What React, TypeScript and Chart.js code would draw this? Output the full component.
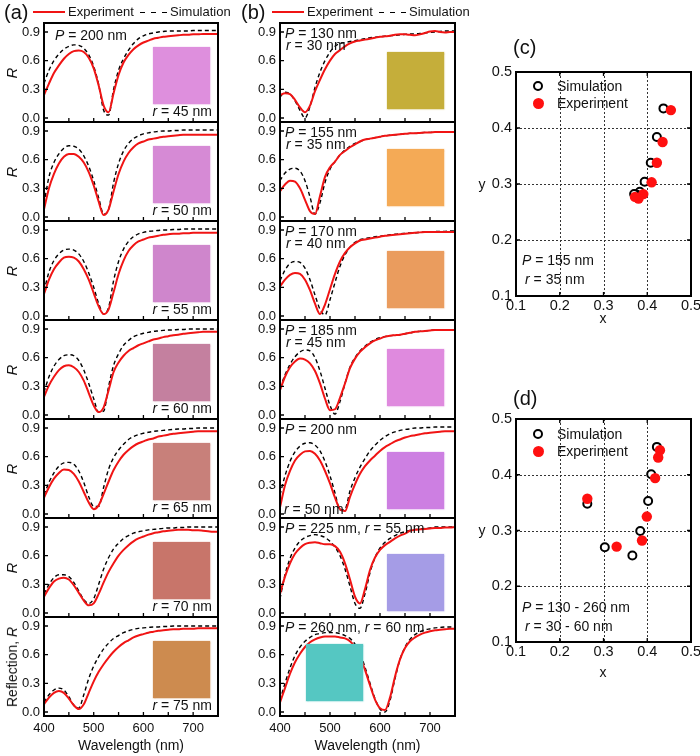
import React, { useEffect, useRef } from "react";
import { Chart, registerables } from "chart.js";
Chart.register(...registerables);

const FONT = '"Liberation Sans", Arial, Helvetica, sans-serif';
const RED = "#f01414";
const PAGE_W = 700;
const PAGE_H = 756;

// ---------- data ----------
const wavelengths = [400, 410, 420, 430, 440, 450, 460, 470, 480, 490, 500, 510, 520, 530, 540, 550, 560, 570, 580, 590, 600, 610, 620, 630, 640, 650, 660, 670, 680, 690, 700, 710, 720, 730, 740, 750];
const xTickValues = [400, 450, 500, 550, 600, 650, 700, 750];
const xLabelValues = [400, 500, 600, 700];
const rTickValues = [0, 0.3, 0.6, 0.9];
const cieTickValues = [0.1, 0.2, 0.3, 0.4, 0.5];
const cieGridValues = [0.2, 0.3, 0.4];

// (a) P = 200 nm
const expA45 = [0.24, 0.36, 0.47, 0.55, 0.62, 0.67, 0.70, 0.705, 0.69, 0.63, 0.52, 0.34, 0.13, 0.06, 0.26, 0.45, 0.58, 0.66, 0.72, 0.76, 0.79, 0.81, 0.83, 0.84, 0.85, 0.855, 0.86, 0.865, 0.87, 0.87, 0.875, 0.875, 0.88, 0.88, 0.88, 0.88];
const simA45 = [0.36, 0.50, 0.60, 0.67, 0.72, 0.75, 0.765, 0.76, 0.73, 0.66, 0.54, 0.35, 0.08, 0.03, 0.30, 0.50, 0.62, 0.71, 0.78, 0.83, 0.86, 0.88, 0.89, 0.90, 0.905, 0.91, 0.91, 0.91, 0.91, 0.91, 0.915, 0.915, 0.915, 0.915, 0.915, 0.915];
const expA50 = [0.08, 0.30, 0.45, 0.56, 0.63, 0.66, 0.66, 0.63, 0.57, 0.47, 0.33, 0.16, 0.02, 0.08, 0.27, 0.45, 0.58, 0.67, 0.73, 0.77, 0.79, 0.81, 0.82, 0.83, 0.84, 0.845, 0.85, 0.855, 0.86, 0.86, 0.86, 0.86, 0.86, 0.86, 0.86, 0.86];
const simA50 = [0.14, 0.42, 0.57, 0.66, 0.72, 0.745, 0.74, 0.71, 0.64, 0.53, 0.38, 0.20, 0.03, 0.08, 0.36, 0.56, 0.69, 0.77, 0.82, 0.85, 0.87, 0.88, 0.89, 0.895, 0.90, 0.90, 0.905, 0.905, 0.91, 0.91, 0.91, 0.91, 0.91, 0.91, 0.91, 0.91];
const expA55 = [0.23, 0.38, 0.49, 0.56, 0.61, 0.62, 0.61, 0.57, 0.49, 0.38, 0.24, 0.10, 0.02, 0.07, 0.25, 0.44, 0.58, 0.68, 0.74, 0.78, 0.80, 0.82, 0.83, 0.84, 0.85, 0.855, 0.86, 0.86, 0.865, 0.865, 0.87, 0.87, 0.87, 0.87, 0.87, 0.87];
const simA55 = [0.26, 0.46, 0.58, 0.65, 0.69, 0.70, 0.69, 0.65, 0.57, 0.45, 0.30, 0.13, 0.02, 0.09, 0.37, 0.57, 0.70, 0.78, 0.83, 0.86, 0.875, 0.885, 0.89, 0.895, 0.90, 0.90, 0.905, 0.905, 0.91, 0.91, 0.91, 0.91, 0.91, 0.91, 0.91, 0.91];
const expA60 = [0.19, 0.31, 0.40, 0.47, 0.51, 0.52, 0.50, 0.45, 0.36, 0.23, 0.10, 0.03, 0.08, 0.26, 0.45, 0.55, 0.62, 0.67, 0.70, 0.73, 0.75, 0.77, 0.79, 0.80, 0.815, 0.825, 0.835, 0.84, 0.85, 0.855, 0.86, 0.865, 0.87, 0.87, 0.87, 0.87];
const simA60 = [0.24, 0.40, 0.51, 0.58, 0.62, 0.63, 0.62, 0.57, 0.47, 0.33, 0.17, 0.03, 0.04, 0.30, 0.52, 0.64, 0.73, 0.78, 0.82, 0.84, 0.855, 0.865, 0.875, 0.88, 0.885, 0.89, 0.89, 0.895, 0.895, 0.90, 0.90, 0.90, 0.90, 0.90, 0.90, 0.90];
const expA65 = [0.17, 0.28, 0.37, 0.43, 0.465, 0.46, 0.42, 0.34, 0.23, 0.12, 0.05, 0.09, 0.21, 0.34, 0.46, 0.55, 0.62, 0.67, 0.71, 0.74, 0.76, 0.78, 0.79, 0.81, 0.82, 0.83, 0.84, 0.845, 0.85, 0.855, 0.86, 0.865, 0.865, 0.865, 0.865, 0.865];
const simA65 = [0.20, 0.33, 0.43, 0.50, 0.535, 0.54, 0.52, 0.45, 0.33, 0.18, 0.08, 0.08, 0.28, 0.47, 0.59, 0.67, 0.73, 0.78, 0.81, 0.83, 0.845, 0.855, 0.865, 0.87, 0.875, 0.88, 0.885, 0.89, 0.89, 0.895, 0.895, 0.90, 0.90, 0.90, 0.90, 0.90];
const expA70 = [0.17, 0.26, 0.33, 0.36, 0.37, 0.35, 0.29, 0.21, 0.13, 0.08, 0.10, 0.20, 0.32, 0.43, 0.52, 0.60, 0.66, 0.71, 0.75, 0.78, 0.80, 0.82, 0.835, 0.845, 0.855, 0.86, 0.865, 0.87, 0.87, 0.87, 0.865, 0.865, 0.86, 0.855, 0.85, 0.85];
const simA70 = [0.20, 0.30, 0.37, 0.40, 0.40, 0.38, 0.32, 0.23, 0.14, 0.10, 0.15, 0.30, 0.46, 0.58, 0.67, 0.73, 0.78, 0.81, 0.835, 0.85, 0.86, 0.87, 0.875, 0.88, 0.885, 0.89, 0.89, 0.895, 0.895, 0.90, 0.90, 0.90, 0.90, 0.90, 0.90, 0.90];
const expA75 = [0.08, 0.15, 0.20, 0.22, 0.20, 0.14, 0.07, 0.03, 0.08, 0.20, 0.32, 0.42, 0.50, 0.57, 0.63, 0.68, 0.72, 0.75, 0.78, 0.80, 0.815, 0.83, 0.84, 0.85, 0.855, 0.86, 0.865, 0.865, 0.87, 0.87, 0.87, 0.875, 0.875, 0.875, 0.875, 0.875];
const simA75 = [0.10, 0.18, 0.23, 0.25, 0.23, 0.16, 0.07, 0.04, 0.18, 0.35, 0.48, 0.58, 0.66, 0.72, 0.77, 0.80, 0.83, 0.85, 0.865, 0.875, 0.88, 0.885, 0.89, 0.89, 0.895, 0.895, 0.90, 0.90, 0.90, 0.90, 0.90, 0.90, 0.90, 0.90, 0.90, 0.90];

// (b) varying P and r
const expB130 = [0.24, 0.26, 0.25, 0.19, 0.11, 0.06, 0.13, 0.28, 0.40, 0.51, 0.60, 0.67, 0.71, 0.75, 0.78, 0.80, 0.81, 0.82, 0.83, 0.84, 0.85, 0.855, 0.86, 0.87, 0.875, 0.875, 0.87, 0.865, 0.875, 0.89, 0.905, 0.91, 0.90, 0.895, 0.90, 0.90];
const simB130 = [0.22, 0.27, 0.25, 0.18, 0.08, 0.0, 0.12, 0.32, 0.48, 0.60, 0.69, 0.75, 0.78, 0.79, 0.80, 0.81, 0.82, 0.83, 0.84, 0.845, 0.85, 0.855, 0.86, 0.865, 0.87, 0.875, 0.88, 0.88, 0.885, 0.89, 0.895, 0.90, 0.905, 0.91, 0.91, 0.91];
const expB155 = [0.27, 0.34, 0.38, 0.37, 0.30, 0.18, 0.06, 0.03, 0.22, 0.42, 0.52, 0.58, 0.65, 0.69, 0.73, 0.76, 0.79, 0.81, 0.82, 0.83, 0.84, 0.85, 0.855, 0.86, 0.865, 0.87, 0.875, 0.875, 0.88, 0.885, 0.885, 0.89, 0.89, 0.89, 0.89, 0.89];
const simB155 = [0.38, 0.46, 0.50, 0.51, 0.48, 0.38, 0.21, 0.03, 0.15, 0.36, 0.50, 0.58, 0.65, 0.70, 0.74, 0.77, 0.79, 0.81, 0.82, 0.83, 0.84, 0.85, 0.855, 0.86, 0.865, 0.87, 0.875, 0.875, 0.88, 0.885, 0.885, 0.89, 0.89, 0.89, 0.89, 0.89];
const expB170 = [0.31, 0.38, 0.43, 0.45, 0.44, 0.38, 0.27, 0.13, 0.02, 0.12, 0.28, 0.44, 0.57, 0.66, 0.72, 0.76, 0.79, 0.80, 0.81, 0.82, 0.83, 0.84, 0.845, 0.85, 0.855, 0.86, 0.865, 0.87, 0.875, 0.88, 0.88, 0.88, 0.88, 0.88, 0.88, 0.88];
const simB170 = [0.37, 0.48, 0.55, 0.57, 0.56, 0.50, 0.38, 0.22, 0.07, 0.01, 0.17, 0.35, 0.52, 0.64, 0.72, 0.77, 0.80, 0.81, 0.82, 0.83, 0.835, 0.84, 0.85, 0.855, 0.86, 0.865, 0.87, 0.87, 0.875, 0.88, 0.88, 0.885, 0.885, 0.885, 0.89, 0.89];
const expB185 = [0.26, 0.40, 0.50, 0.56, 0.59, 0.58, 0.54, 0.46, 0.33, 0.17, 0.05, 0.06, 0.18, 0.33, 0.49, 0.59, 0.66, 0.71, 0.75, 0.78, 0.80, 0.82, 0.83, 0.835, 0.84, 0.85, 0.86, 0.87, 0.875, 0.88, 0.885, 0.89, 0.89, 0.89, 0.89, 0.89];
const simB185 = [0.28, 0.42, 0.53, 0.61, 0.66, 0.68, 0.67, 0.60, 0.46, 0.28, 0.10, 0.01, 0.14, 0.33, 0.50, 0.60, 0.67, 0.72, 0.76, 0.79, 0.81, 0.82, 0.83, 0.835, 0.84, 0.85, 0.86, 0.87, 0.875, 0.88, 0.885, 0.89, 0.89, 0.89, 0.89, 0.89];
const expB200 = [0.07, 0.30, 0.45, 0.56, 0.62, 0.655, 0.66, 0.63, 0.56, 0.45, 0.32, 0.17, 0.05, 0.03, 0.18, 0.31, 0.42, 0.50, 0.56, 0.61, 0.66, 0.70, 0.73, 0.76, 0.78, 0.80, 0.815, 0.825, 0.835, 0.845, 0.85, 0.855, 0.86, 0.865, 0.865, 0.865];
const simB200 = [0.20, 0.40, 0.55, 0.65, 0.71, 0.74, 0.745, 0.72, 0.66, 0.55, 0.40, 0.22, 0.04, 0.05, 0.24, 0.38, 0.49, 0.58, 0.66, 0.72, 0.77, 0.81, 0.84, 0.86, 0.875, 0.885, 0.89, 0.90, 0.90, 0.905, 0.905, 0.91, 0.91, 0.91, 0.91, 0.91];
const expB225 = [0.20, 0.38, 0.52, 0.62, 0.68, 0.72, 0.735, 0.74, 0.73, 0.72, 0.72, 0.70, 0.64, 0.52, 0.35, 0.17, 0.10, 0.25, 0.45, 0.58, 0.66, 0.71, 0.745, 0.78, 0.81, 0.83, 0.86, 0.87, 0.875, 0.88, 0.885, 0.89, 0.89, 0.895, 0.895, 0.90];
const simB225 = [0.15, 0.40, 0.57, 0.68, 0.75, 0.79, 0.81, 0.82, 0.81, 0.79, 0.75, 0.69, 0.60, 0.46, 0.28, 0.10, 0.05, 0.20, 0.42, 0.58, 0.68, 0.74, 0.78, 0.81, 0.835, 0.85, 0.865, 0.875, 0.88, 0.885, 0.89, 0.90, 0.90, 0.90, 0.90, 0.90];
const expB260 = [0.10, 0.25, 0.40, 0.52, 0.61, 0.68, 0.73, 0.76, 0.78, 0.79, 0.79, 0.79, 0.78, 0.77, 0.74, 0.68, 0.58, 0.44, 0.28, 0.13, 0.04, 0.02, 0.15, 0.37, 0.55, 0.67, 0.74, 0.78, 0.81, 0.83, 0.845, 0.855, 0.86, 0.865, 0.87, 0.87];
const simB260 = [0.12, 0.30, 0.46, 0.59, 0.68, 0.74, 0.78, 0.81, 0.82, 0.83, 0.83, 0.83, 0.82, 0.80, 0.77, 0.71, 0.61, 0.47, 0.30, 0.14, 0.03, 0.0, 0.12, 0.35, 0.55, 0.68, 0.76, 0.81, 0.84, 0.86, 0.87, 0.88, 0.885, 0.89, 0.89, 0.89];

// (c) chromaticity, P = 155 nm
const simCx = [0.437, 0.422, 0.408, 0.394, 0.383, 0.376, 0.370];
const simCy = [0.435, 0.384, 0.338, 0.304, 0.286, 0.281, 0.282];
const expCx = [0.454, 0.435, 0.422, 0.410, 0.391, 0.380, 0.372];
const expCy = [0.432, 0.375, 0.338, 0.303, 0.282, 0.274, 0.277];
// (d) chromaticity, P = 130 - 260 nm
const simDx = [0.422, 0.409, 0.402, 0.384, 0.366, 0.303, 0.263];
const simDy = [0.450, 0.401, 0.353, 0.299, 0.255, 0.270, 0.348];
const expDx = [0.429, 0.425, 0.418, 0.399, 0.388, 0.330, 0.263];
const expDy = [0.444, 0.431, 0.394, 0.325, 0.282, 0.271, 0.357];

const radiiA = ["45", "50", "55", "60", "65", "70", "75"];
const expA = [expA45, expA50, expA55, expA60, expA65, expA70, expA75];
const simA = [simA45, simA50, simA55, simA60, simA65, simA70, simA75];
const swatchA = ["#de8fdd", "#d68ad5", "#cf86cc", "#c4809f", "#c8807a", "#c8756a", "#cd8b4f"];

const periodsB = ["130", "155", "170", "185", "200", "225", "260"];
const radiiB = ["30", "35", "40", "45", "50", "55", "60"];
const expB = [expB130, expB155, expB170, expB185, expB200, expB225, expB260];
const simB = [simB130, simB155, simB170, simB185, simB200, simB225, simB260];
const swatchB = ["#c5ae3a", "#f4aa56", "#ea9c5e", "#df8ade", "#cd7fe2", "#a59ce6", "#55c7c2"];

// ---------- layout ----------
const PANEL_TOP = 23;
const PANEL_H = 99;
const AREA_A = { left: 44, right: 218 };
const AREA_B = { left: 280, right: 455 };
const AREA_C = { left: 516, right: 691, top: 72, bottom: 296 };
const AREA_D = { left: 516, right: 691, top: 419, bottom: 642 };

type Area = { left: number; right: number; top: number; bottom: number };

function makeFramePlugin(cfg: { xTicks: number[]; yTicks: number[]; allSides: boolean; grid?: number[] }) {
  return {
    id: "frame",
    beforeDatasetsDraw(chart: any) {
      if (!cfg.grid) return;
      const { ctx, chartArea: a, scales } = chart;
      ctx.save();
      ctx.strokeStyle = "#333";
      ctx.lineWidth = 1;
      ctx.setLineDash([2, 2]);
      for (const v of cfg.grid) {
        const px = Math.round(scales.x.getPixelForValue(v)) + 0.5;
        ctx.beginPath();
        ctx.moveTo(px, a.top);
        ctx.lineTo(px, a.bottom);
        ctx.stroke();
        const py = Math.round(scales.y.getPixelForValue(v)) + 0.5;
        ctx.beginPath();
        ctx.moveTo(a.left, py);
        ctx.lineTo(a.right, py);
        ctx.stroke();
      }
      ctx.restore();
    },
    afterDraw(chart: any) {
      const { ctx, chartArea: a, scales } = chart;
      const len = 4;
      ctx.save();
      ctx.strokeStyle = "#000";
      ctx.lineWidth = 1.3;
      ctx.beginPath();
      for (const v of cfg.xTicks) {
        const px = scales.x.getPixelForValue(v);
        ctx.moveTo(px, a.bottom);
        ctx.lineTo(px, a.bottom - len);
        if (cfg.allSides) {
          ctx.moveTo(px, a.top);
          ctx.lineTo(px, a.top + len);
        }
      }
      for (const v of cfg.yTicks) {
        const py = scales.y.getPixelForValue(v);
        ctx.moveTo(a.left, py);
        ctx.lineTo(a.left + len, py);
        if (cfg.allSides) {
          ctx.moveTo(a.right, py);
          ctx.lineTo(a.right - len, py);
        }
      }
      ctx.stroke();
      ctx.lineWidth = 2;
      ctx.strokeRect(a.left, a.top, a.right - a.left, a.bottom - a.top);
      ctx.restore();
    },
  };
}

function LinePanel({ exp, sim, area, showX }: { exp: number[]; sim: number[]; area: Area; showX: boolean }) {
  const ref = useRef<HTMLCanvasElement | null>(null);
  const yAxisW = 44;
  const boxLeft = area.left - yAxisW;
  const boxTop = area.top - 12;
  const boxRight = area.right + 6;
  const boxBottom = showX ? PAGE_H : area.bottom + 12;
  const w = boxRight - boxLeft;
  const h = boxBottom - boxTop;

  useEffect(() => {
    const canvas = ref.current;
    if (!canvas) return;
    const chart = new Chart(canvas, {
      type: "line",
      data: {
        datasets: [
          {
            label: "Experiment",
            data: wavelengths.map((x, i) => ({ x, y: exp[i] })),
            borderColor: RED,
            borderWidth: 2,
            pointRadius: 0,
            cubicInterpolationMode: "monotone",
            fill: false,
          },
          {
            label: "Simulation",
            data: wavelengths.map((x, i) => ({ x, y: sim[i] })),
            borderColor: "#000",
            borderWidth: 1.4,
            borderDash: [4, 3],
            pointRadius: 0,
            cubicInterpolationMode: "monotone",
            fill: false,
          },
        ],
      },
      options: {
        responsive: false,
        animation: false,
        events: [],
        devicePixelRatio: 1,
        layout: {
          padding: {
            left: 0,
            top: area.top - boxTop,
            right: boxRight - area.right,
            bottom: showX ? 0 : boxBottom - area.bottom,
          },
        },
        plugins: { legend: { display: false }, tooltip: { enabled: false } },
        scales: {
          x: {
            type: "linear",
            min: 400,
            max: 750,
            display: showX,
            afterBuildTicks: (s: any) => {
              s.ticks = xTickValues.map((value) => ({ value }));
            },
            afterFit: showX
              ? (s: any) => {
                  s.height = boxBottom - area.bottom;
                  s.paddingLeft = 0;
                  s.paddingRight = 0;
                }
              : undefined,
            grid: { display: false, drawTicks: false },
            border: { display: false },
            ticks: {
              autoSkip: false,
              maxRotation: 0,
              padding: 5,
              color: "#111",
              font: { family: FONT, size: 13 },
              callback: (v: any) => (xLabelValues.includes(Number(v)) ? String(v) : ""),
            },
            title: {
              display: true,
              text: "Wavelength (nm)",
              color: "#111",
              font: { family: FONT, size: 14 },
              padding: { top: 0, bottom: 1 },
            },
          },
          y: {
            type: "linear",
            min: -0.042,
            max: 0.994,
            afterBuildTicks: (s: any) => {
              s.ticks = rTickValues.map((value) => ({ value }));
            },
            afterFit: (s: any) => {
              s.width = yAxisW;
              s.paddingTop = 0;
              s.paddingBottom = 0;
            },
            grid: { display: false, drawTicks: false },
            border: { display: false },
            ticks: {
              padding: 4,
              color: "#111",
              font: { family: FONT, size: 13 },
              callback: (v: any) => Number(v).toFixed(1),
            },
          },
        },
      } as any,
      plugins: [makeFramePlugin({ xTicks: xTickValues, yTicks: rTickValues, allSides: false })],
    });
    return () => chart.destroy();
  }, []);

  return (
    <canvas
      ref={ref}
      width={w}
      height={h}
      style={{ position: "absolute", left: boxLeft, top: boxTop, width: w, height: h }}
    />
  );
}

function ScatterPanel({
  simX, simY, expX, expY, area,
}: { simX: number[]; simY: number[]; expX: number[]; expY: number[]; area: Area }) {
  const ref = useRef<HTMLCanvasElement | null>(null);
  const yAxisW = 46;
  const boxLeft = area.left - yAxisW;
  const boxTop = area.top - 12;
  const boxRight = PAGE_W;
  const boxBottom = area.bottom + 24;
  const w = boxRight - boxLeft;
  const h = boxBottom - boxTop;

  useEffect(() => {
    const canvas = ref.current;
    if (!canvas) return;
    const chart = new Chart(canvas, {
      type: "scatter",
      data: {
        datasets: [
          {
            label: "Experiment",
            data: expX.map((x, i) => ({ x, y: expY[i] })),
            pointStyle: "circle",
            pointRadius: 5.2,
            backgroundColor: "#ff1010",
            borderColor: "#ff1010",
            borderWidth: 0,
          },
          {
            label: "Simulation",
            data: simX.map((x, i) => ({ x, y: simY[i] })),
            pointStyle: "circle",
            pointRadius: 4,
            backgroundColor: "#ffffff",
            borderColor: "#000",
            borderWidth: 2,
          },
        ],
      },
      options: {
        responsive: false,
        animation: false,
        events: [],
        devicePixelRatio: 1,
        layout: { padding: { left: 0, top: area.top - boxTop, right: boxRight - area.right, bottom: 0 } },
        plugins: { legend: { display: false }, tooltip: { enabled: false } },
        scales: {
          x: {
            type: "linear",
            min: 0.1,
            max: 0.5,
            afterBuildTicks: (s: any) => {
              s.ticks = cieTickValues.map((value) => ({ value }));
            },
            afterFit: (s: any) => {
              s.height = boxBottom - area.bottom;
              s.paddingLeft = 0;
              s.paddingRight = 0;
            },
            grid: { display: false, drawTicks: false },
            border: { display: false },
            ticks: {
              autoSkip: false,
              maxRotation: 0,
              padding: 1,
              color: "#111",
              font: { family: FONT, size: 14.5 },
              callback: (v: any) => Number(v).toFixed(1),
            },
          },
          y: {
            type: "linear",
            min: 0.1,
            max: 0.5,
            afterBuildTicks: (s: any) => {
              s.ticks = cieTickValues.map((value) => ({ value }));
            },
            afterFit: (s: any) => {
              s.width = yAxisW;
              s.paddingTop = 0;
              s.paddingBottom = 0;
            },
            grid: { display: false, drawTicks: false },
            border: { display: false },
            ticks: {
              padding: 4,
              color: "#111",
              font: { family: FONT, size: 14.5 },
              callback: (v: any) => Number(v).toFixed(1),
            },
          },
        },
      } as any,
      plugins: [makeFramePlugin({ xTicks: cieTickValues, yTicks: cieTickValues, allSides: true, grid: cieGridValues })],
    });
    return () => chart.destroy();
  }, []);

  return (
    <canvas
      ref={ref}
      width={w}
      height={h}
      style={{ position: "absolute", left: boxLeft, top: boxTop, width: w, height: h }}
    />
  );
}

function Label({
  x, y, size = 14, anchor = "start", rotate = false, children,
}: { x: number; y: number; size?: number; anchor?: "start" | "middle" | "end"; rotate?: boolean; children: React.ReactNode }) {
  const tx = anchor === "start" ? "0" : anchor === "end" ? "-100%" : "-50%";
  return (
    <div
      style={{
        position: "absolute",
        left: x,
        top: y,
        transform: `translate(${tx},-50%)${rotate ? " rotate(-90deg)" : ""}`,
        fontSize: size,
        lineHeight: 1.15,
        fontFamily: FONT,
        whiteSpace: "nowrap",
        color: "#111",
      }}
    >
      {children}
    </div>
  );
}

function Swatch({ x, y, color }: { x: number; y: number; color: string }) {
  return (
    <div
      style={{
        position: "absolute",
        left: x,
        top: y,
        width: 57,
        height: 57,
        background: color,
        boxShadow: `0 0 1.5px 0.5px ${color}`,
      }}
    />
  );
}

function LineLegend({ x }: { x: number }) {
  return (
    <>
      <div style={{ position: "absolute", left: x, top: 11, width: 32, height: 2, background: RED }} />
      <Label x={x + 35} y={12} size={13}>Experiment</Label>
      {[0, 11, 22].map((d) => (
        <div key={d} style={{ position: "absolute", left: x + 107 + d, top: 11.5, width: 5, height: 1.5, background: "#000" }} />
      ))}
      <Label x={x + 137} y={12} size={13}>Simulation</Label>
    </>
  );
}

function ScatterLegend({ top }: { top: number }) {
  return (
    <>
      <div
        style={{
          position: "absolute", left: 533, top: top - 5, width: 6, height: 6,
          border: "2px solid #000", borderRadius: "50%", background: "#fff",
        }}
      />
      <Label x={557} y={top} size={14}>Simulation</Label>
      <div
        style={{
          position: "absolute", left: 532.5, top: top + 17 - 5.5, width: 11, height: 11,
          borderRadius: "50%", background: "#ff1010",
        }}
      />
      <Label x={557} y={top + 17} size={14}>Experiment</Label>
    </>
  );
}

export default function App() {
  const tops = radiiA.map((_, k) => PANEL_TOP + PANEL_H * k);
  const swatchTopB = [29, 27, 30, 29, 33, 36, 27];
  return (
    <div style={{ position: "absolute", left: 0, top: 0, width: PAGE_W, height: PAGE_H, background: "#fff", overflow: "hidden" }}>
      {expA.map((e, k) => (
        <LinePanel
          key={"a" + k}
          exp={e}
          sim={simA[k]}
          area={{ ...AREA_A, top: tops[k], bottom: tops[k] + PANEL_H }}
          showX={k === expA.length - 1}
        />
      ))}
      {expB.map((e, k) => (
        <LinePanel
          key={"b" + k}
          exp={e}
          sim={simB[k]}
          area={{ ...AREA_B, top: tops[k], bottom: tops[k] + PANEL_H }}
          showX={k === expB.length - 1}
        />
      ))}
      <ScatterPanel simX={simCx} simY={simCy} expX={expCx} expY={expCy} area={AREA_C} />
      <ScatterPanel simX={simDx} simY={simDy} expX={expDx} expY={expDy} area={AREA_D} />

      {/* headers */}
      <Label x={4} y={12} size={20}>(a)</Label>
      <LineLegend x={33} />
      <Label x={241} y={12} size={20}>(b)</Label>
      <LineLegend x={272} />

      {/* column (a) annotations */}
      <Label x={55} y={tops[0] + 12} size={14}><i>P</i> = 200 nm</Label>
      {radiiA.map((r, k) => (
        <React.Fragment key={"ra" + k}>
          <Swatch x={153} y={tops[k] + 24} color={swatchA[k]} />
          <Label x={212} y={tops[k] + 88} size={14} anchor="end"><i>r</i> = {r} nm</Label>
          {k < radiiA.length - 1 ? (
            <Label x={12} y={tops[k] + 50} size={15} anchor="middle" rotate><i>R</i></Label>
          ) : (
            <Label x={12} y={tops[k] + 50} size={14} anchor="middle" rotate>Reflection, <i>R</i></Label>
          )}
        </React.Fragment>
      ))}

      {/* column (b) annotations */}
      {periodsB.map((p, k) => (
        <React.Fragment key={"pb" + k}>
          <Swatch x={k === 6 ? 306 : 387} y={tops[k] + swatchTopB[k]} color={swatchB[k]} />
          {k < 4 ? (
            <>
              <Label x={285} y={tops[k] + 10} size={14}><i>P</i> = {p} nm</Label>
              <Label x={286} y={tops[k] + 22} size={14}><i>r</i> = {radiiB[k]} nm</Label>
            </>
          ) : k === 4 ? (
            <>
              <Label x={285} y={tops[k] + 10} size={14}><i>P</i> = {p} nm</Label>
              <Label x={284} y={tops[k] + 90} size={14}><i>r</i> = {radiiB[k]} nm</Label>
            </>
          ) : (
            <Label x={285} y={tops[k] + 10} size={14}><i>P</i> = {p} nm, <i>r</i> = {radiiB[k]} nm</Label>
          )}
        </React.Fragment>
      ))}

      {/* (c) */}
      <Label x={513} y={47} size={20}>(c)</Label>
      <ScatterLegend top={86} />
      <Label x={482} y={184} size={14} anchor="middle">y</Label>
      <Label x={603} y={318} size={14} anchor="middle">x</Label>
      <Label x={522} y={260} size={14}><i>P</i> = 155 nm</Label>
      <Label x={525} y={279} size={14}><i>r</i> = 35 nm</Label>

      {/* (d) */}
      <Label x={513} y={398} size={20}>(d)</Label>
      <ScatterLegend top={434} />
      <Label x={482} y={530} size={14} anchor="middle">y</Label>
      <Label x={603} y={672} size={14} anchor="middle">x</Label>
      <Label x={522} y={607} size={14}><i>P</i> = 130 - 260 nm</Label>
      <Label x={525} y={626} size={14}><i>r</i> = 30 - 60 nm</Label>
    </div>
  );
}
